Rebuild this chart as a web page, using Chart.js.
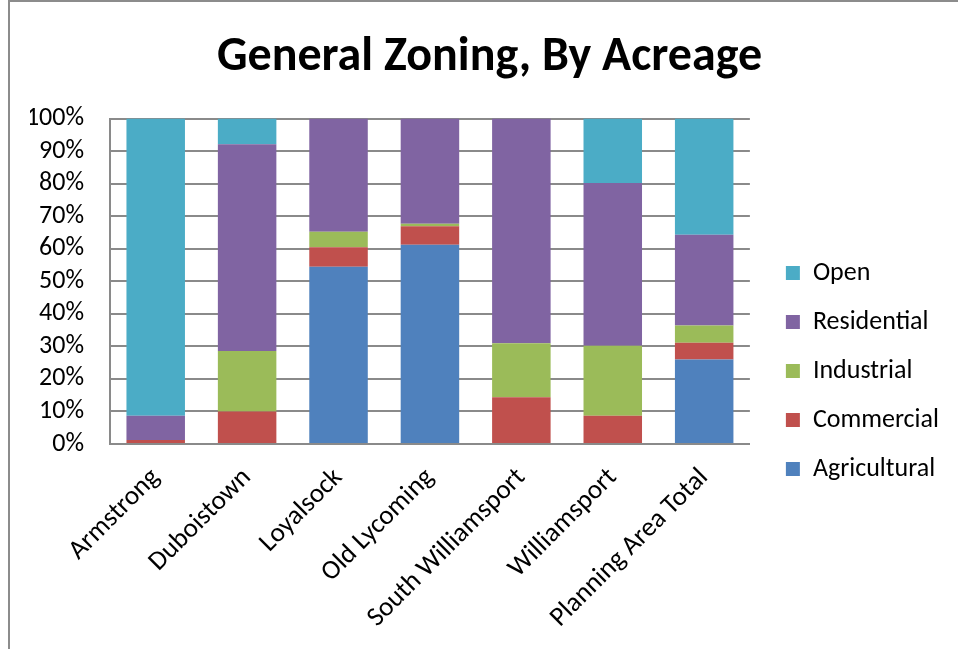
<!DOCTYPE html>
<html>
<head>
<meta charset="utf-8">
<script src="https://cdn.jsdelivr.net/npm/chart.js@4"></script>
<style>
	body { margin: 0; background: #fff; }
	#frame { position: absolute; left: 8px; top: 0px; width: 1000px; height: 700px; border: 2px solid #8c8c8c; }
	#wrap { position: absolute; left: 0; top: 0; width: 958px; height: 649px; }
</style>
</head>
<body>
<div id="frame"></div>
<div id="wrap"><canvas id="chart0"></canvas></div>
<script>
// values, percent of acreage
const places = ["Armstrong", "Duboistown", "Loyalsock", "Old Lycoming", "South Williamsport", "Williamsport", "Planning Area Total"];
const agricultural = [0, 0, 54.5, 61.2, 0, 0, 26.0];
const commercial = [1.2, 10.0, 6.0, 5.7, 14.4, 8.7, 5.1];
const industrial = [0, 18.6, 4.7, 0.8, 16.6, 21.5, 5.3];
const residential = [7.5, 63.5, 34.8, 32.3, 69.0, 50.0, 27.9];
const open = [91.3, 7.9, 0, 0, 0, 19.8, 35.7];
const yTicks = [0, 10, 20, 30, 40, 50, 60, 70, 80, 90, 100];

const fontName = "Carlito, Lato, sans-serif";

let canvas = document.getElementById("chart0");
canvas.width = 958;
canvas.height = 649;
canvas.style.width = '958px';
canvas.style.height = '649px';

let datasets = [
	{ label: "Agricultural", data: agricultural, backgroundColor: "#4F81BD" },
	{ label: "Commercial", data: commercial, backgroundColor: "#C0504D" },
	{ label: "Industrial", data: industrial, backgroundColor: "#9BBB59" },
	{ label: "Residential", data: residential, backgroundColor: "#8064A2" },
	{ label: "Open", data: open, backgroundColor: "#4BACC6" },
];

new Chart(canvas, {
	type: 'bar',
	data: {
		labels: places,
		datasets: datasets
	},
	options: {
		responsive: false,
		animation: false,
		layout: { padding: { left: 30, right: 9, top: 0, bottom: 0 } },
		datasets: {
			bar: { categoryPercentage: 1, barPercentage: 0.64, borderWidth: 0 }
		},
		scales: {
			x: {
				stacked: true,
				grid: { display: false, drawTicks: false },
				border: { color: '#8a8a8a', width: 2 },
				ticks: {
					color: '#000',
					font: { family: fontName, size: 27 },
					minRotation: 45,
					maxRotation: 45,
					autoSkip: false,
					padding: 18
				},
				afterFit: function (scale) { scale.height = 205; }
			},
			y: {
				stacked: true,
				min: 0,
				max: 100,
				afterBuildTicks: function (scale) {
					scale.ticks = yTicks.map(v => ({ value: v }));
				},
				grid: { color: '#8a8a8a', lineWidth: 2, drawTicks: false },
				border: { color: '#8a8a8a', width: 2 },
				ticks: {
					color: '#000',
					font: { family: fontName, size: 26 },
					autoSkip: false,
					padding: 26,
					callback: v => v + '%'
				},
				afterFit: function (scale) { scale.width = 80; }
			},
			// empty axis, only keeps a gap between the plot and the legend
			gap: {
				position: 'right',
				min: 0,
				max: 1,
				grid: { display: false },
				border: { display: false },
				ticks: { display: false },
				afterFit: function (scale) { scale.width = 13; }
			}
		},
		plugins: {
			title: {
				display: true,
				text: 'General Zoning, By Acreage',
				color: '#000',
				font: { family: fontName, size: 48, weight: 'bold' },
				padding: { top: 29, bottom: 32 }
			},
			legend: {
				position: 'right',
				reverse: true,
				maxWidth: 300,
				title: {
					display: true,
					text: ' ',
					font: { size: 10 },
					padding: { top: 0, bottom: 81 }
				},
				labels: {
					color: '#000',
					font: { family: fontName, size: 26 },
					boxWidth: 14,
					boxHeight: 14,
					padding: 23
				}
			},
			tooltip: { enabled: false }
		}
	}
});
</script>
</body>
</html>
